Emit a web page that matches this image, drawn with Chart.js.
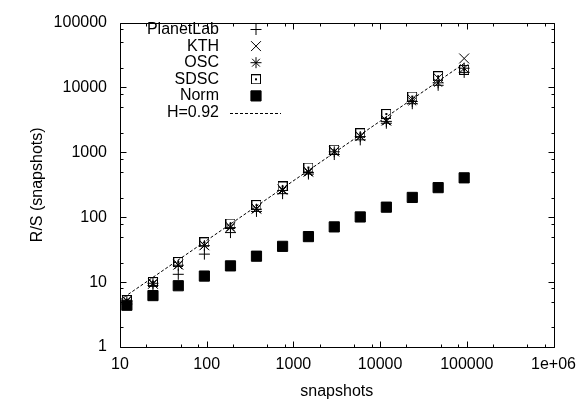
<!DOCTYPE html>
<html>
<head>
<meta charset="utf-8">
<script src="https://cdn.jsdelivr.net/npm/chart.js@4/dist/chart.umd.min.js"></script>
<style>
  body { margin: 0; background: #fff; }
  canvas { display: block; }
</style>
</head>
<body>
<canvas id="chart" width="584" height="401"></canvas>
<script>
// number of snapshots per measurement point
var snapshots = [12, 24, 47, 94, 188, 375, 750, 1490, 2960, 5900, 11800, 23500, 46700, 93200];

// R/S values per trace
var planetLab = [4.6, 8.9, 13.2, 27, 58, 123, 231, 463, 926, 1560, 2810, 5620, 10800, 17100];
var kth = [5.2, 9.4, 18.6, 37, 71, 136, 268, 505, 1030, 1780, 3100, 6600, 14000, 28000];
var osc = [5.1, 9.6, 18.2, 36.5, 69, 133, 259, 491, 1020, 1750, 3000, 6090, 11800, 19800];
var sdsc = [5.3, 10, 20.4, 41, 80, 154, 298, 584, 1100, 1970, 3900, 7250, 14900, 18700];
var norm = [4.4, 6.2, 8.8, 12.4, 17.8, 25.1, 35.6, 50.3, 71, 101, 143, 202, 286, 405];

// fitted line, H=0.92
var fitX = [10, 93200];
var fitY = [5.3, 23500];

var xTicks = [10, 100, 1000, 10000, 100000, 1000000];
var xTickLabels = ["10", "100", "1000", "10000", "100000", "1e+06"];
var yTicks = [1, 10, 100, 1000, 10000, 100000];
var yTickLabels = ["1", "10", "100", "1000", "10000", "100000"];
var minorSteps = [2, 5, 8];

var fontFamily = "'Liberation Sans', Arial, sans-serif";

function points(xs, ys) {
  return xs.map((x, i) => ({ x: x, y: ys[i] }));
}

// open square with a dot in the middle
function dottedSquare() {
  var c = document.createElement("canvas");
  c.width = 10;
  c.height = 10;
  var g = c.getContext("2d");
  g.strokeStyle = "#000";
  g.lineWidth = 1;
  g.strokeRect(0.5, 0.5, 9, 9);
  g.fillStyle = "#000";
  g.fillRect(4, 4, 2, 2);
  return c;
}

Chart.defaults.font.family = fontFamily;
Chart.defaults.font.size = 16;
Chart.defaults.color = "#000";

// frame with inward ticks on all four sides
var framePlugin = {
  id: "frame",
  afterDraw(chart) {
    var ctx = chart.ctx;
    var a = chart.chartArea;
    var x = chart.scales.x;
    var y = chart.scales.y;
    var l = Math.round(a.left) + 0.5, r = Math.round(a.right) + 0.5;
    var t = Math.round(a.top) + 0.5, b = Math.round(a.bottom) + 0.5;
    ctx.save();
    ctx.strokeStyle = "#000";
    ctx.lineWidth = 1;
    ctx.beginPath();
    ctx.rect(l, t, r - l, b - t);

    function xTick(v, len) {
      var p = Math.round(x.getPixelForValue(v)) + 0.5;
      ctx.moveTo(p, b); ctx.lineTo(p, b - len);
      ctx.moveTo(p, t); ctx.lineTo(p, t + len);
    }
    function yTick(v, len) {
      var p = Math.round(y.getPixelForValue(v)) + 0.5;
      ctx.moveTo(l, p); ctx.lineTo(l + len, p);
      ctx.moveTo(r, p); ctx.lineTo(r - len, p);
    }
    xTicks.forEach((v, i) => {
      xTick(v, 6);
      if (i < xTicks.length - 1) minorSteps.forEach((m) => xTick(v * m, 3));
    });
    yTicks.forEach((v, i) => {
      yTick(v, 6);
      if (i < yTicks.length - 1) minorSteps.forEach((m) => yTick(v * m, 3));
    });
    ctx.stroke();
    ctx.restore();
  },
};

// key: label right-aligned, sample to the right of it
var keyPlugin = {
  id: "key",
  afterDraw(chart) {
    var ctx = chart.ctx;
    ctx.save();
    ctx.font = "16px " + fontFamily;
    ctx.textAlign = "right";
    ctx.textBaseline = "middle";
    chart.data.datasets.forEach((ds, i) => {
      var rowY = 29.5 + i * 16.6;
      ctx.fillStyle = "#000";
      ctx.fillText(ds.label, 219, rowY);
      ctx.strokeStyle = "#000";
      ctx.lineWidth = 1;
      if (ds.showLine) {
        ctx.setLineDash(ds.borderDash);
        ctx.beginPath();
        ctx.moveTo(230, Math.round(rowY) + 0.5);
        ctx.lineTo(281, Math.round(rowY) + 0.5);
        ctx.stroke();
        ctx.setLineDash([]);
      } else {
        ctx.fillStyle = ds.pointBackgroundColor || "#000";
        Chart.helpers.drawPoint(ctx, {
          pointStyle: ds.pointStyle,
          radius: ds.pointRadius,
          borderWidth: ds.pointBorderWidth,
          rotation: 0,
        }, 256, rowY);
      }
    });
    ctx.restore();
  },
};

function markerSet(label, values, style, radius, fill) {
  return {
    label: label,
    data: points(snapshots, values),
    pointStyle: style,
    pointRadius: radius,
    pointBorderWidth: 1,
    pointBorderColor: "#000",
    pointBackgroundColor: fill || "rgba(0,0,0,0)",
    showLine: false,
  };
}

new Chart("chart", {
  type: "scatter",
  data: {
    datasets: [
      markerSet("PlanetLab", planetLab, "cross", 5.5),
      markerSet("KTH", kth, "crossRot", 7),
      markerSet("OSC", osc, "star", 5.5),
      markerSet("SDSC", sdsc, dottedSquare(), 5),
      markerSet("Norm", norm, "rect", 7.2, "#000"),
      {
        label: "H=0.92",
        data: points(fitX, fitY),
        showLine: true,
        borderColor: "#000",
        borderWidth: 1,
        borderDash: [3, 2],
        pointRadius: 0,
      },
    ],
  },
  options: {
    responsive: false,
    animation: false,
    devicePixelRatio: 1,
    layout: { padding: { top: 15, right: 30, left: 0, bottom: 0 } },
    plugins: { legend: { display: false }, tooltip: { enabled: false } },
    scales: {
      x: {
        type: "logarithmic",
        min: 10,
        max: 1000000,
        grid: { display: false, drawTicks: false },
        border: { display: false },
        afterBuildTicks: (scale) => {
          scale.ticks = xTicks.map((v) => ({ value: v }));
        },
        afterFit: (scale) => {
          scale.height = 54;
        },
        ticks: {
          padding: 8,
          maxRotation: 0,
          autoSkip: false,
          callback: (v) => xTickLabels[xTicks.indexOf(v)],
        },
        title: { display: true, text: "snapshots", padding: { top: 0, bottom: 0 } },
      },
      y: {
        type: "logarithmic",
        min: 1,
        max: 100000,
        grid: { display: false, drawTicks: false },
        border: { display: false },
        afterBuildTicks: (scale) => {
          scale.ticks = yTicks.map((v) => ({ value: v }));
        },
        afterFit: (scale) => {
          scale.width = 120;
        },
        ticks: {
          padding: 13,
          autoSkip: false,
          callback: (v) => yTickLabels[yTicks.indexOf(v)],
        },
        title: { display: true, text: "R/S (snapshots)", padding: { top: 28, bottom: 0 } },
      },
    },
  },
  plugins: [framePlugin, keyPlugin],
});
</script>
</body>
</html>
